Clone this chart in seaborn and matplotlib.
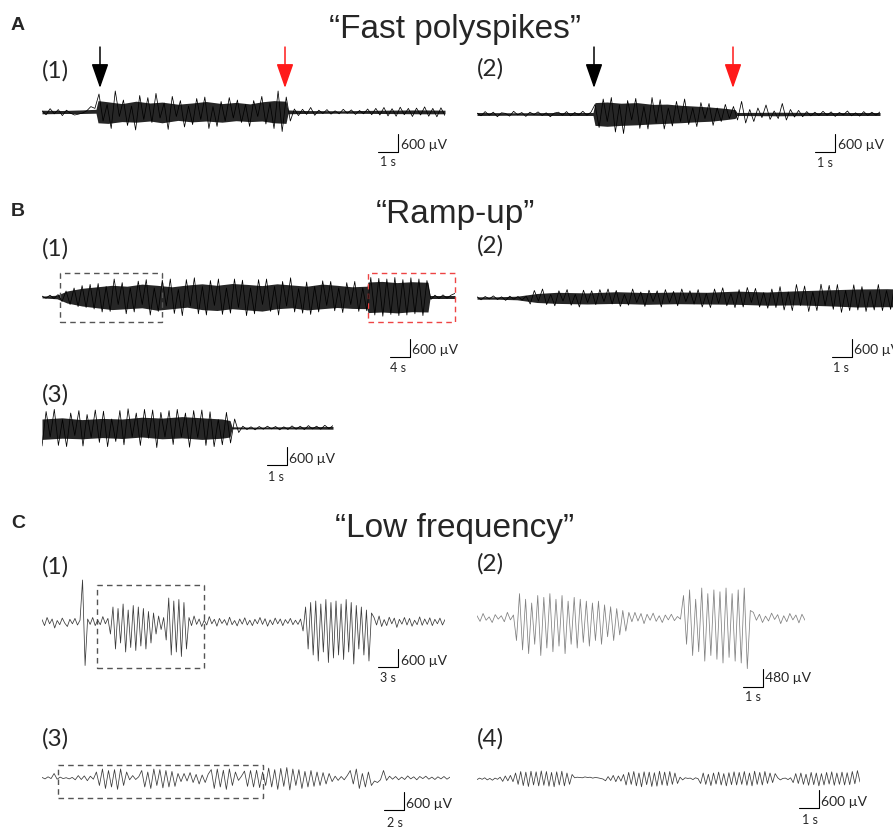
import numpy as np
import matplotlib
matplotlib.use("Agg")
import matplotlib.pyplot as plt
import seaborn as sns
from matplotlib.patches import Rectangle

# ---------------- trace data (uV) ---------------- #
# A(1) fast polyspikes, 1 s scale
a1_dur = 20.15
a1_vals = [40, -90, 110, -60, 80, -120, 60, -40, -100, -70, -30, 40, 180, 120,
           600, -300, 250, -550, 700, -150, 400, -450, 200, -600, 550, -250, 480, -350, 620, -200,
           300, -580, 520, -150, 380, -500, 200, -420, 450, -250, 500, -550, 180, -480, 350, -300,
           480, -200, 400, -350, 250, -480, 380, -150, 520, -400, 300, -550, 700, -650, 500, -300,
           100, -120, 90, -80, 150, -110, 60, -50, 80, -70, 40, -60, 90, -40, 70, -80, 50, -60, 100, -90,
           120, -100, 150, -130, 110, -140, 160, -90, 120, -150, 130, -100, 170, -140, 120, -160, 140, -120]
# dense core of the trace (upper / lower edge)
a1_env_t = [0, 1, 2, 2.7, 2.8, 3.3, 4, 4.7, 5.4, 6, 6.8, 7.5, 8.2, 9, 9.7, 10.4, 11, 11.6, 12.2,
            12.3, 13, 15, 17, 19, 20.15]
a1_env_hi = [60, 50, 70, 90, 380, 340, 280, 360, 300, 330, 260, 300, 350, 280, 320, 270, 340, 380, 360,
             70, 50, 40, 60, 70, 60]
a1_env_lo = [-60, -50, -50, -40, -360, -380, -320, -340, -300, -360, -280, -330, -300, -340, -290, -320,
             -300, -360, -380, -60, -50, -40, -50, -60, -60]
a1_arrows = [2.9, 12.15]  # black = onset, red = end

# A(2)
a2_dur = 20.15
a2_vals = [30, -60, 80, -40, 60, -90, 40, 20, -70, 90, -30, 50, -80, 60, -20, 70, -50, 40, -90, 30,
           60, -40, 80, -60, 50, -30, 90, -40, 60,
           320,
           -450, 500, -250, 550, -600, 300, -650, 450, -200, 520, -480, 250, -500, 550, -300, 480, -500, 200,
           -400, 420, -250, 500, -350, 200, -420, 380, -150, 350, -380, 200, -250, 320, -150, 250, -200,
           420, -300, 150, -250, 200, -120, 300, -180, 100, -150, 350, -200, 150, -100, 120, -90, 80, -60,
           60, -50, 90, -40, 70, -80, 50, -30, 100, -60, 40, -70, 80, -50, 60, -40, 70]
a2_env_t = [0, 2, 4, 5.8, 5.9, 6.5, 7.2, 8, 8.8, 9.5, 10.2, 11, 11.7, 12.4, 12.9, 13.0, 15, 17, 20.15]
a2_env_hi = [50, 40, 50, 50, 380, 400, 360, 380, 320, 330, 290, 260, 230, 190, 150, 50, 60, 50, 50]
a2_env_lo = [-50, -40, -50, -50, -380, -410, -380, -360, -330, -310, -290, -260, -240, -190, -150,
             -50, -60, -50, -50]
a2_arrows = [5.85, 12.8]

# B(1) ramp-up, 4 s scale
b1_dur = 82.6
b1_vals = [30, -40, 60, -50, 80,
           -150, 200, -250, 300, -320, 380, -350, 420, -400, 450,
           -500, 350, -480, 600, -250, 480, -560, 300, -500, 530, -250, 580, -600, 300, -480, 560, -300, 600,
           -550, 250, -620, 580, -300, 640, -560, 350, -600, 550, -280, 600, -580, 300, -540, 600, -350, 560,
           -620, 300, -560, 580, -250, 600, -480, 350, -600, 520, -300, 640, -500, 280, -540, 500, -580, 350,
           -500, 540, -280, 520, -460, 300, -520, 480, -250, 520, -480, 300, -460,
           650, -600, 620, -640, 600, -580, 650, -620, 580, -600, 640, -560, 600, -620, 550,
           -80, 60, -50, 70, -40, 60, 120]
b1_env_t = [0, 3, 5, 8, 11, 14, 17, 20, 23, 26, 29, 32, 35, 38, 41, 44, 47, 50, 53, 56, 59, 62, 65,
            65.2, 68, 71, 74, 77.2, 77.6, 82.6]
b1_env_hi = [30, 60, 200, 290, 340, 390, 360, 430, 390, 340, 400, 440, 390, 450, 420, 380, 440, 400,
             360, 430, 390, 340, 360, 500, 520, 480, 510, 490, 50, 50]
b1_env_lo = [-30, -60, -200, -300, -360, -420, -390, -360, -440, -390, -340, -420, -450, -390, -430,
             -470, -390, -360, -430, -390, -350, -380, -390, -520, -500, -530, -490, -500, -50, -50]
b1_boxes = [(3.6, 24.0), (65.2, 82.6)]

# B(2)
b2_dur = 21.5
b2_vals = [40, -60, 50, -30, 70, -50, 40, -80, 60, -40, 50, -70, 60,
           -200, 250, -100, 300, -220, 120, -260, 240, -100, 280, -240, 120, -300, 260, -150, 240, -220, 280, -120, 300, -200,
           250, -280, 120, -240, 300, -150, 200, -280, 260, -120, 240, -300, 280, -150, 220, -260, 300, -120, 240, -200,
           280, -300, 150, -320, 300, -180, 340, -260, 150, -320, 280, -300, 350, -150, 320, -300, 180, -340, 300, -320,
           380, -400, 200, -420, 450, -250, 400, -450, 200, -420, 460, -250, 420, -380, 450, -480, 250, -420, 440, -400,
           380, -450, 220, -400, 450, -420, 250, -380, 440, -400, 420, -450]
b2_env_t = [0, 1, 2, 3, 4, 5.5, 7, 8.5, 10, 11.5, 13, 14.5, 16, 17.5, 19, 20.5, 21.5]
b2_env_hi = [40, 40, 60, 150, 190, 170, 210, 180, 200, 190, 230, 200, 240, 270, 300, 310, 290]
b2_env_lo = [-40, -40, -60, -150, -180, -200, -180, -210, -190, -200, -210, -240, -230, -260, -300,
             -290, -310]

# B(3)
b3_dur = 14.55
b3_vals = [-600, 550, -300, 620, -580, 280, -620, 500, -250, 580, -600, 450, -320, 600, -480, 560,
           -620, 300, -450, 580, -560, 640, -300, 500, -580, 620, -340, 600, -650, 520, -300, 580,
           -550, 620, -300, 500, -640, 580, -320, 600, -580, 540, -620, 280, -560, 520, -500, 300,
           -150, 60, -50, 40, -60, 50, -40, 60, -30, 50, -60, 40, -50, 70, -40, 60, -50, 80, -30, 60,
           -40, 90, -20, 80]
b3_env_t = [0, 1, 2, 3, 4, 5, 6, 7, 8, 9, 9.4, 9.5, 10.5, 12, 14.55]
b3_env_hi = [300, 340, 280, 320, 300, 360, 330, 380, 340, 300, 250, 40, 30, 40, 50]
b3_env_lo = [-380, -340, -360, -320, -350, -300, -360, -330, -380, -340, -300, -30, -30, -30, -40]

# C(1) low frequency, 3 s scale
c1_dur = 60.45
c1_vals = [80, -120, 150, -60, 100, -200, 50, -90, 130, -40, -150, 90, -60, 120, -100, 60,
           1400, -1450,
           100, -80, 150, -120, 60, -90, 180, -60, 120,
           -400, 500, -900, 450, -700, 600, -1000, 400, -850, 550, -950, 500, -800, 450, -900, 350, -700, 300,
           -400, 200, -250, 150,
           -600, 800, -1100, 700, -1000, 750, -1150, 650, -900,
           150, -120, 200, -80, 100, -150, 60, -100, 180, -60, 90, -140, 120, -50, 80, -110, 160, -90, 50, -130,
           100, -70, 140, -100, 60, -120, 90, -60, 150, -80, 110, -140, 70, -90, 130, -60, 100, -120, 80, -50,
           120, -90, 60, -80, 100,
           -300, 500, -900, 650, -1100, 700, -1300, 600, -1000, 750, -1350, 650, -1200, 700, -1100, 600,
           -1250, 750, -1000, 650, -1400, 550, -900, 500, -1100, 400, -1300, 300,
           150, -100, 200, -150, 80, -120, 160, -60, 130, -180, 90, -70, 150, -100, 120, -140, 60, -90, 170, -110,
           100, -80, 140, -120, 90, -60, 130, -100, 80]
c1_boxes = [(8.25, 24.3)]

# C(2)
c2_dur = 16.4
c2_vals = [60, -90, 120, -60, 30, -120, 90, -30, 60, -100, 150, -50, 80,
           -600, 650, -850, 500, -950, 400, -700, 600, -1000, 550, -800, 650, -900, 500, -750, 600, -950, 450,
           -700, 550, -800, 500, -650, 450, -750, 400, -600, 450, -700, 350, -500, 300, -600, 250, -450, 200,
           -350, 150,
           -100, 150, -80, 120, -150, 100, -60, 130, -90, 60, -120, 80, -50, 100, -70, 40, -30,
           600, -700, 750, -1000, 500, -900, 800, -1150, 650, -1000, 750, -1100, 700, -1200, 800, -1050, 650,
           -1150, 750, -1200, 800, -1350, 200,
           150, -60, 100, -120, 50, -80, 130, -40, 90, -150, 60, -100, 120, -50, 80, -130, 100, -60]

# C(3)
c3_dur = 40.8
c3_vals = [20, -30, 40, -20, 150, -40, 30, -20, 10, -30, 20,
           -60, 80, -50, 70, -90, 60, -40,
           200, -250, 300, -350, 250, -300, 280, -380, 300, -250, 200,
           -60, 80, -50, 40,
           250, -300, 200, -350, 300, -250, 280, -330, 250, -300, 220, -280, 150,
           -120, 150, -100, 180, -150, 120, -200, 100, -150, 130,
           280, -350, 300, -300, 260, -380, 300, -250, 200,
           -80, 60,
           230, -280, 250, -300, 260, -320, 200,
           -250, 330, -300, 280, -380, 320, -280, 350, -400, 300, -250, 280, -350, 220, -300, 250, -280, 200,
           -250, 180, -200, 150, -120,
           60, -80, 50, -60, 80,
           250, -200, 300, -350, 150, -300, 200, -250,
           -100, -150, -60, 250, -80,
           60, -40, 50, -60, 30, -50, 70, -30, 40, -60, 50, -20, 60, -40, 30, -50, 40, -30, 50, -40, 30]
c3_boxes = [(1.6, 22.1)]

# C(4)
c4_dur = 19.15
c4_vals = [-20, 30, -10, 40, -30, 20, -40, 30, -10,
           60, -80, 100, -60, 120, -90,
           200, -180, 250, -220, 230, -250, 260, -200, 240, -230, 270, -210, 250, -240, 220, -260, 240, -200,
           260, -230, 200, -180, 150,
           40, 60, 50, 40, 70, 50, 60, 30, 50, 40, 20, 0,
           -60, 80, -50, 120, -90, 100, -70, 150,
           -200, 220, -180, 250, -230, 200, -260, 240, -190, 230, -250, 210, -240, 260, -200, 230, -220, 250,
           -180, 200, -150,
           60, -30, 40, 20, 30, -20, 40, 10,
           -150, 200, -180, 160, -220, 200, -170, 230, -200, 180, -230, 210, -190, 240, -200, 220, -180, 250,
           -210, 200, -230, 260, -180, 220, -200, 250, -150, 200, -120, 180,
           40, -30, 20, 30, -20, 40,
           -120, 180, -150, 200, -180, 160, -210, 220, -190, 200, -230, 180, -200, 220, -170, 240, -210, 200,
           -180, 230, -200, 210, -190, 250, -160, 280, -100]

# ---------------------------- Plotting ----------------------------- #
sns.set_style("white")
W, H = 893, 832
fig = plt.figure(figsize=(W / 100, H / 100), dpi=100)
PX_SEC = 20   # px of one time scale unit
PX_UV = 18    # px of one amplitude scale unit
LBL = "Lato"


def ftext(x, y, s, **kw):
    fig.text(x / W, 1 - y / H, s, **kw)


def trace(x0, yc, dur, sec, uv, vals, color, env=None):
    w = dur / sec * PX_SEC
    uvpx = uv / PX_UV
    ax = fig.add_axes([x0 / W, 1 - (yc + 60) / H, w / W, 120 / H])
    t = np.linspace(0, dur, len(vals))
    if env is not None:
        ax.fill_between(env[0], env[2], env[1], color=color, lw=0, alpha=0.85)
    sns.lineplot(x=t, y=vals, ax=ax, color=color, lw=0.55, estimator=None, sort=False)
    ax.set_xlim(0, dur)
    ax.set_ylim(-60 * uvpx, 60 * uvpx)
    ax.axis("off")
    ax.x0, ax.yc, ax.sec, ax.uv = x0, yc, sec, uv
    return ax


def scale_bar(ax, cx, cy, uv_lbl, t_lbl, lx, ly, tx, ty):
    t = (cx - ax.x0) / PX_SEC * ax.sec
    v = -(cy - ax.yc) * ax.uv / PX_UV
    ax.plot([t - ax.sec, t, t], [v, v, v + ax.uv], color="k", lw=0.8, clip_on=False)
    ftext(lx, ly, uv_lbl, ha="left", va="center", fontsize=10, family=LBL)
    ftext(tx, ty, t_lbl, ha="left", va="center", fontsize=9, family=LBL)


def box(ax, t0, t1, top_px, bot_px, color):
    k = ax.uv / PX_UV
    ax.add_patch(Rectangle((t0, -bot_px * k), t1 - t0, (top_px + bot_px) * k, fill=False,
                           ec=color, lw=1.0, ls=(0, (4, 3)), clip_on=False))


def arrows(ax, times, tip_uv):
    for t, c in zip(times, ["black", "#ff1a1a"]):
        ax.annotate("", xy=(t, tip_uv), xytext=(0, 29.5), textcoords="offset points",
                    arrowprops=dict(arrowstyle="-|>,head_length=1.0,head_width=0.35",
                                    mutation_scale=15, color=c, lw=1.1,
                                    shrinkA=0, shrinkB=0), annotation_clip=False)


# titles & panel letters
for lt, yl, title, yt in [("A", 25, "\u201cFast polyspikes\u201d", 38),
                          ("B", 212, "\u201cRamp-up\u201d", 223),
                          ("C", 524, "\u201cLow frequency\u201d", 537)]:
    ftext(11, yl, lt, ha="left", va="center", fontsize=14, fontweight="bold", family="Liberation Sans")
    ftext(455, yt, title, ha="center", va="baseline", fontsize=24, family="Liberation Sans")

# sub-panel labels
for x, y, s in [(42, 71, "(1)"), (477, 69, "(2)"), (42, 249, "(1)"), (477, 246, "(2)"),
                (42, 395, "(3)"), (42, 567, "(1)"), (477, 564, "(2)"), (42, 739, "(3)"), (477, 739, "(4)")]:
    ftext(x, y, s, ha="left", va="center", fontsize=17.5, family=LBL)

# A
ax = trace(42, 112, a1_dur, 1, 600, a1_vals, "black", (a1_env_t, a1_env_hi, a1_env_lo))
arrows(ax, a1_arrows, 24 * 600 / PX_UV)
scale_bar(ax, 398, 152, "600 \u00b5V", "1 s", 401, 145, 380, 162)
ax = trace(477, 114, a2_dur, 1, 600, a2_vals, "black", (a2_env_t, a2_env_hi, a2_env_lo))
arrows(ax, a2_arrows, 26 * 600 / PX_UV)
scale_bar(ax, 835, 152, "600 \u00b5V", "1 s", 838, 145, 817, 163)

# B
ax = trace(42, 297, b1_dur, 4, 600, b1_vals, "black", (b1_env_t, b1_env_hi, b1_env_lo))
box(ax, *b1_boxes[0], 24, 25, "#555555")
box(ax, *b1_boxes[1], 24, 25, "#ee4444")
scale_bar(ax, 410, 357, "600 \u00b5V", "4 s", 412, 350, 390, 368)
ax = trace(477, 298, b2_dur, 1, 600, b2_vals, "black", (b2_env_t, b2_env_hi, b2_env_lo))
scale_bar(ax, 852, 357, "600 \u00b5V", "1 s", 854, 350, 833, 368)
ax = trace(42, 428, b3_dur, 1, 600, b3_vals, "black", (b3_env_t, b3_env_hi, b3_env_lo))
scale_bar(ax, 287, 465, "600 \u00b5V", "1 s", 289, 459, 268, 477)

# C
ax = trace(42, 622, c1_dur, 3, 600, c1_vals, "#3a3a3a")
box(ax, *c1_boxes[0], 37, 46, "#555555")
scale_bar(ax, 398, 667, "600 \u00b5V", "3 s", 401, 661, 380, 678)
ax = trace(477, 618, c2_dur, 1, 480, c2_vals, "#808080")
scale_bar(ax, 763, 687, "480 \u00b5V", "1 s", 765, 678, 745, 697)
ax = trace(42, 778, c3_dur, 2, 600, c3_vals, "#3a3a3a")
box(ax, *c3_boxes[0], 13, 20, "#555555")
scale_bar(ax, 404, 810, "600 \u00b5V", "2 s", 406, 804, 387, 823)
ax = trace(477, 779, c4_dur, 1, 600, c4_vals, "#3a3a3a")
scale_bar(ax, 819, 808, "600 \u00b5V", "1 s", 821, 802, 802, 820)

fig.savefig("out.png", dpi=100)
